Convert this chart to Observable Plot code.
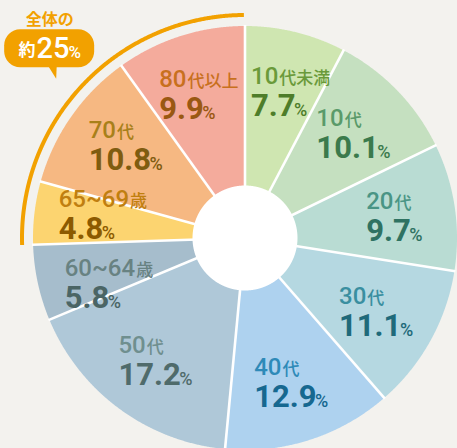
<!DOCTYPE html>
<html><head><meta charset="utf-8">
<script src="https://cdn.jsdelivr.net/npm/d3@7"></script>
<script src="https://cdn.jsdelivr.net/npm/@observablehq/plot@0.6"></script>
<style>
html,body{margin:0;padding:0;background:#f3f2ee;overflow:hidden}
#chart svg{display:block}
</style></head><body><div id="chart"></div>
<script>
// ---- data ----
const categories = ["10代未満","10代","20代","30代","40代","50代","60~64歳","65~69歳","70代","80代以上"];
const shares = [7.7, 10.1, 9.7, 11.1, 12.9, 17.2, 5.8, 4.8, 10.8, 9.9];
const shareLabels = ["7.7","10.1","9.7","11.1","12.9","17.2","5.8","4.8","10.8","9.9"];
const seniorGroups = ["65~69歳","70代","80代以上"];
const calloutTitle = "全体の";
const calloutPrefix = "約";
const calloutValue = "25";
const unit = "%";

// ---- styles ----
const sliceColors = ["#cfe6b1","#c5e0c0","#b9dcd3","#b5d8e1","#aed2ef","#afc8d8","#a6bdcc","#fcd470","#f6b882","#f4ab9c"];
const labelColors = ["#6a9a3a","#5a9a6a","#4a9585","#3a8fa0","#2e8ab8","#6f8f8f","#688282","#c07f10","#a8801a","#c8701e"];
const valueColors = ["#4e7d2a","#3b7a4c","#2f7262","#1f6a7a","#166890","#4f6b6b","#4b6565","#8c5a00","#7f5c10","#9a5812"];
const accent = "#f2a100";
const W = 457, H = 448;
const cx = 244.5, cy = 237.5;       // pie centre in pixels
const R = 212, R0 = 52.5, RArc = 223, RLabel = 151, RBubble = 272;
const numFont = "Roboto", cjkFont = "'Noto Sans CJK JP'";
const S = {num: 24, suf: 17, val: 31, pct: 18};
const gapSuf = 1, gapPct = -1.5, edgePad = 20, halfBlock = 24.5, minDist = 69;

// ---- geometry from data ----
const arcs = d3.pie().sort(null).value(d => d)(shares);
const polar = (a, r) => ({x: r * Math.sin(a), y: r * Math.cos(a)});
const step = Math.PI / 720;
function arcPoints(a0, a1, r) {
  const n = Math.max(2, Math.ceil((a1 - a0) / step));
  return d3.range(n + 1).map(k => polar(a0 + (a1 - a0) * k / n, r));
}
const slicePts = arcs.flatMap((a, i) => [
  {x: 0, y: 0}, ...arcPoints(a.startAngle, a.endAngle, R), {x: 0, y: 0}
].map(p => ({...p, key: categories[i], color: sliceColors[i]})));
const separators = arcs.map(a => {
  const p = polar(a.startAngle, R + 1);
  return {x1: 0, y1: 0, x2: p.x, y2: p.y};
});
const holePts = arcPoints(0, 2 * Math.PI, R0);

const sIdx = seniorGroups.map(g => categories.indexOf(g));
const sStart = d3.min(sIdx, i => arcs[i].startAngle);
const sEnd = d3.max(sIdx, i => arcs[i].endAngle);
const seniorArc = arcPoints(sStart, sEnd - 0.005, RArc);

// ---- text measuring with real SVG text ----
const meas = d3.select("body").append("svg").attr("width", 10).attr("height", 10)
  .style("position", "absolute").style("left", "-9999px");
function textWidth(s, size, weight, family) {
  if (!s) return 0;
  const t = meas.append("text").attr("font-size", size).attr("font-weight", weight)
    .attr("font-family", family).text(s);
  const w = t.node().getComputedTextLength(); t.remove(); return w;
}

const labels = arcs.map((a, i) => {
  const mid = (a.startAngle + a.endAngle) / 2;
  const c = polar(mid, RLabel);
  const m = categories[i].match(/^[0-9~]+/);
  const num = m ? m[0] : "";
  const suf = categories[i].slice(num.length);
  const wNum = textWidth(num, S.num, 500, numFont);
  const wSuf = textWidth(suf, S.suf, 500, cjkFont);
  const wVal = textWidth(shareLabels[i], S.val, 700, numFont);
  const wPct = textWidth(unit, S.pct, 500, numFont);
  const w = Math.max(wNum + gapSuf + wSuf, wVal + gapPct + wPct);
  return {num, suf, val: shareLabels[i], cxl: c.x, y: c.y, w, wNum, wVal, lc: labelColors[i], vc: valueColors[i]};
});

function constrain() {
  for (const b of labels) {
    // stay clear of the 12 o'clock separator
    if (b.y > 0) {
      if (b.cxl > 0 && b.cxl - b.w / 2 < 6) b.cxl = 6 + b.w / 2;
      if (b.cxl < 0 && b.cxl + b.w / 2 > -6) b.cxl = -6 - b.w / 2;
    }
    // stay inside the pie with a margin
    const ym = Math.max(Math.abs(b.y + halfBlock), Math.abs(b.y - halfBlock));
    const half = Math.sqrt(Math.max(0, R * R - ym * ym)) - edgePad;
    if (b.cxl - b.w / 2 < -half) b.cxl = -half + b.w / 2;
    if (b.cxl + b.w / 2 > half) b.cxl = half - b.w / 2;
  }
}
for (let it = 0; it < 60; it++) {
  constrain();
  for (let i = 0; i < labels.length; i++) for (let j = i + 1; j < labels.length; j++) {
    const a = labels[i], b = labels[j];
    const ox = Math.min(a.cxl + a.w / 2, b.cxl + b.w / 2) - Math.max(a.cxl - a.w / 2, b.cxl - b.w / 2);
    const d = a.y - b.y;
    if (ox > 20 && Math.abs(d) < minDist) {
      const s = d >= 0 ? 1 : -1, push = (minDist - Math.abs(d)) / 2;
      a.y += s * push; b.y -= s * push;
    }
  }
}
constrain();
for (const b of labels) {
  b.left = b.cxl - b.w / 2;
  b.sufX = b.left + b.wNum + gapSuf;
  b.pctX = b.left + b.wVal + gapPct;
}

// callout bubble
const bMid = (sStart + sEnd) / 2;
const bc = polar(bMid, RBubble);
const bubble = [{x1: bc.x - 45, x2: bc.x + 45, y1: bc.y - 19, y2: bc.y + 19}];
const pointer = [{x: bc.x - 1, y: bc.y - 18}, {x: bc.x + 7, y: bc.y - 18}, {x: bc.x + 6.5, y: bc.y - 30}];
const wPre = textWidth(calloutPrefix, 17, 700, cjkFont);
const wBig = textWidth(calloutValue, 29, 500, numFont);
const wU = textWidth(unit, 17, 500, numFont);
const totalW = wPre + 1 + wBig - 1 + wU;
const cLeft = bc.x - totalW / 2;
const callout = [{x: cLeft, mx: bc.x, bigX: cLeft + wPre + 1, uX: cLeft + wPre + 1 + wBig - 1, y: bc.y}];
meas.remove();

const chart = Plot.plot({
  width: W, height: H, margin: 0,
  x: {domain: [-cx, W - cx], axis: null},
  y: {domain: [cy - H, cy], axis: null},
  color: {type: "identity"},
  style: {background: "transparent", overflow: "hidden"},
  marks: [
    Plot.line(slicePts, {x: "x", y: "y", z: "key", fill: "color", stroke: "none", curve: "linear"}),
    Plot.link(separators, {x1: "x1", y1: "y1", x2: "x2", y2: "y2", stroke: "white", strokeWidth: 2.6, strokeLinecap: "butt"}),
    Plot.line(holePts, {x: "x", y: "y", fill: "white", stroke: "none"}),
    Plot.line(seniorArc, {x: "x", y: "y", stroke: accent, strokeWidth: 4, strokeLinecap: "butt", fill: "none"}),
    Plot.rect(bubble, {x1: "x1", x2: "x2", y1: "y1", y2: "y2", fill: accent, rx: 16}),
    Plot.line(pointer, {x: "x", y: "y", fill: accent, stroke: "none"}),
    Plot.text(callout, {x: "mx", y: "y", text: () => calloutTitle, textAnchor: "middle", lineAnchor: "bottom",
      dy: -24, fill: accent, fontSize: 16, fontWeight: 700, fontFamily: cjkFont}),
    Plot.text(callout, {x: "x", y: "y", text: () => calloutPrefix, textAnchor: "start", lineAnchor: "bottom",
      dy: 7, fill: "white", fontSize: 17, fontWeight: 700, fontFamily: cjkFont}),
    Plot.text(callout, {x: "bigX", y: "y", text: () => calloutValue, textAnchor: "start", lineAnchor: "bottom",
      dy: 9, fill: "white", fontSize: 29, fontWeight: 500, fontFamily: numFont}),
    Plot.text(callout, {x: "uX", y: "y", text: () => unit, textAnchor: "start", lineAnchor: "bottom",
      dy: 9, fill: "white", fontSize: 17, fontWeight: 500, fontFamily: numFont}),
    Plot.text(labels, {x: "left", y: "y", text: "num", textAnchor: "start", lineAnchor: "bottom",
      dy: -7, fill: "lc", fontSize: S.num, fontWeight: 500, fontFamily: numFont}),
    Plot.text(labels, {x: "sufX", y: "y", text: "suf", textAnchor: "start", lineAnchor: "bottom",
      dy: -7, fill: "lc", fontSize: S.suf, fontWeight: 500, fontFamily: cjkFont}),
    Plot.text(labels, {x: "left", y: "y", text: "val", textAnchor: "start", lineAnchor: "bottom",
      dy: 25, fill: "vc", fontSize: S.val, fontWeight: 700, fontFamily: numFont}),
    Plot.text(labels, {x: "pctX", y: "y", text: () => unit, textAnchor: "start", lineAnchor: "bottom",
      dy: 25, fill: "vc", fontSize: S.pct, fontWeight: 500, fontFamily: numFont})
  ]
});
document.getElementById("chart").appendChild(chart);
</script>
</body></html>
